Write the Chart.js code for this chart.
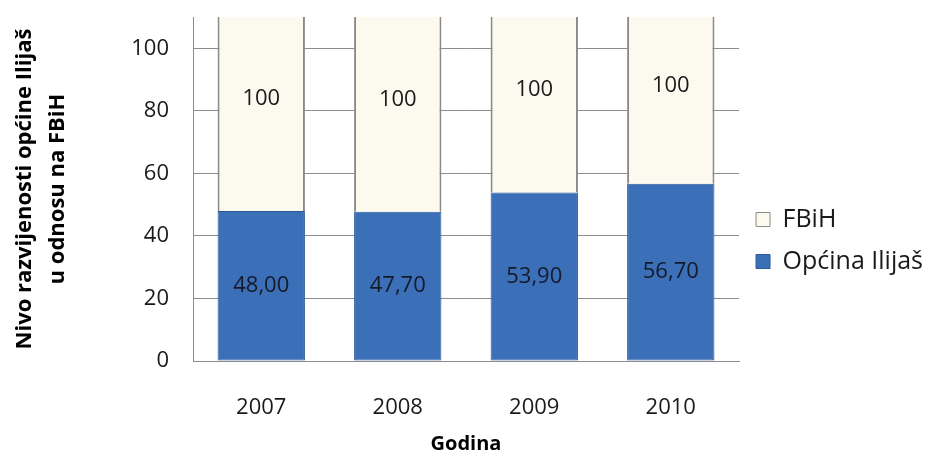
<!DOCTYPE html>
<html>
<head>
<meta charset="utf-8">
<script src="https://cdn.jsdelivr.net/npm/chart.js@4"></script>
<style>
  body { margin: 0; background: #fff; }
  #wrap { width: 925px; height: 464px; }
</style>
</head>
<body>
<div id="wrap"><canvas id="chart"></canvas></div>
<script>
const years = ['2007', '2008', '2009', '2010'];
const ilijas = [48.0, 47.7, 53.9, 56.7];
const fbih = [100, 100, 100, 100];
const yTitle = ['Nivo razvijenosti općine Ilijaš', 'u odnosu na FBiH'];
const xTitle = 'Godina';

const font = '"Open Sans", "Noto Sans", sans-serif';

// draws the value labels inside the bars
const barLabels = {
  id: 'barLabels',
  afterDatasetsDraw(chart) {
    const ctx = chart.ctx;
    const area = chart.chartArea;
    ctx.save();
    ctx.font = '22px ' + font;
    ctx.textAlign = 'center';
    ctx.textBaseline = 'middle';
    chart.data.datasets.forEach((ds, i) => {
      chart.getDatasetMeta(i).data.forEach((bar, j) => {
        let y, txt;
        if (i == 0) {
          y = (bar.y + bar.base) / 2;
          txt = ds.data[j].toFixed(2).replace('.', ',');
          ctx.fillStyle = '#141a2a';
        } else {
          y = (Math.max(bar.y, area.top) + bar.base) / 2 - 15;
          txt = String(ds.data[j]);
          ctx.fillStyle = '#1a1a1a';
        }
        ctx.fillText(txt, bar.x, y);
      });
    });
    ctx.restore();
  }
};

new Chart(document.getElementById('chart'), {
  type: 'bar',
  plugins: [barLabels],
  data: {
    labels: years,
    datasets: [{
      label: 'Općina Ilijaš',
      data: ilijas,
      backgroundColor: '#3b6fb7',
      borderColor: '#2d5a98',
      borderWidth: 1,
      borderSkipped: false,
      categoryPercentage: 0.64,
      barPercentage: 1,
    },
    {
      label: 'FBiH',
      data: fbih,
      backgroundColor: '#fcf9ee',
      borderColor: '#8a8a86',
      borderWidth: { left: 2, right: 2, top: 0, bottom: 0 },
      borderSkipped: false,
      categoryPercentage: 0.64,
      barPercentage: 1,
    }]
  },
  options: {
    responsive: true,
    maintainAspectRatio: false,
    animation: false,
    layout: {
      padding: { top: 17, left: 0, right: -8, bottom: 0 }
    },
    plugins: {
      tooltip: { enabled: false },
      legend: {
        position: 'right',
        reverse: true,
        labels: {
          font: { family: font, size: 25 },
          color: '#1a1a1a',
          boxWidth: 14,
          boxHeight: 14,
          padding: 17,
        }
      }
    },
    scales: {
      x: {
        stacked: true,
        grid: { display: false },
        border: { display: true, color: '#8c8c8c' },
        ticks: {
          font: { family: font, size: 22 },
          color: '#1a1a1a',
          padding: 26,
        },
        title: {
          display: true,
          text: xTitle,
          font: { family: font, size: 20, weight: 'bold' },
          color: '#000',
          padding: { top: 4, bottom: 8 },
        },
        afterFit: function (s) { s.height = 103; }
      },
      y: {
        stacked: true,
        min: 0,
        max: 110,
        border: { display: true, color: '#8c8c8c' },
        grid: {
          color: '#8c8c8c',
          drawTicks: false,
        },
        ticks: {
          stepSize: 20,
          font: { family: font, size: 22 },
          color: '#1a1a1a',
          padding: 24,
        },
        afterBuildTicks: function (s) {
          s.ticks = s.ticks.filter(t => t.value <= 100);
        },
        title: {
          display: true,
          text: yTitle,
          font: { family: font, size: 22, weight: 'bold', lineHeight: 1.5 },
          color: '#000',
          padding: { top: 8, bottom: 0 },
        },
        afterFit: function (s) {
          s.width = 193;
          s.paddingTop = 0;
          s.paddingBottom = 0;
        }
      }
    }
  },
});
</script>
</body>
</html>
